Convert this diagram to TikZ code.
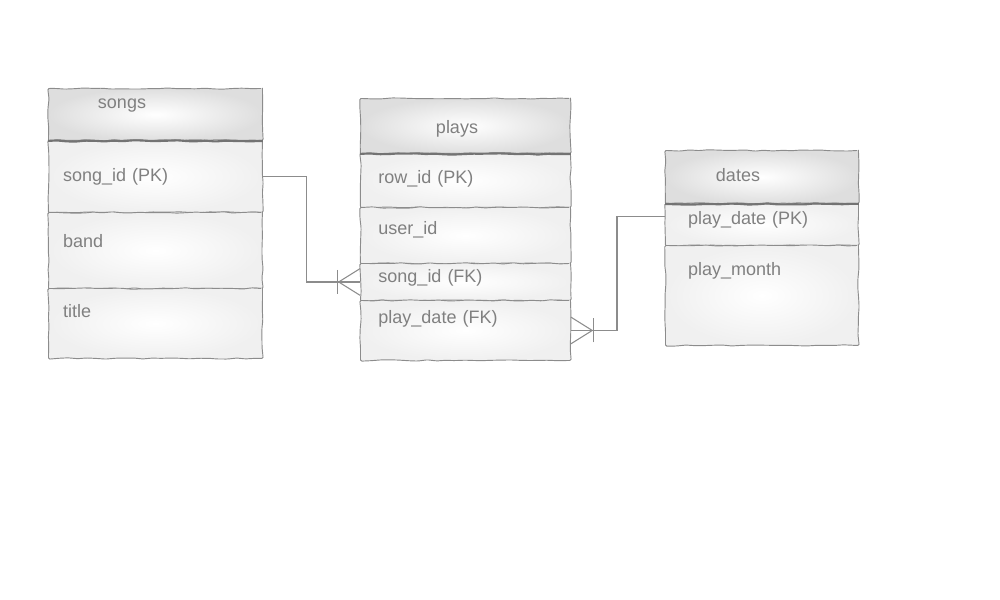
\documentclass[tikz,border=0pt]{standalone}
\usepackage{fontspec}
\setmainfont{Liberation Sans}
\usetikzlibrary{decorations.pathmorphing,calc}

\tikzset{
  sketch/.style={draw=black!45, line width=0.7pt, decorate,
    decoration={random steps, segment length=7pt, amplitude=0.5pt}, rounded corners=1pt},
  head/.style={sketch, anchor=north west, inner sep=0pt, shade, inner color=white, outer color=black!13},
  row/.style={sketch, anchor=north west, inner ysep=0pt, align=left, text height=10pt, text depth=3pt,
    shade, inner color=white, outer color=black!6, text=black!50},
  songcol/.style={row, text width=138.5pt, inner xsep=11pt},
  playcol/.style={row, text width=130.5pt, inner xsep=13.5pt},
  datecol/.style={row, text width=110.75pt, inner xsep=17pt},
  title/.style={text=black!50, inner sep=0pt},
  heavy/.style={sketch, line width=1.6pt, draw=black!55},
  link/.style={draw=black!45, line width=0.8pt},
  crow/.pic={
    \draw[link] (-16pt,0) -- (0,10pt);
    \draw[link] (-16pt,0) -- (0,0);
    \draw[link] (-16pt,0) -- (0,-10pt);
    \draw[link] (-17pt,9pt) -- (-17pt,-9pt);
  },
}
\pgfmathsetseed{7}

\begin{document}
\begin{tikzpicture}[x=0.75pt,y=-0.75pt,font=\fontsize{13.5pt}{16pt}\selectfont]
\useasboundingbox (0,0) rectangle (1000,600);
% songs
\node (songs) [head, minimum width=160.5pt, minimum height=39pt] at (48,88) {};
\node (songsT) [title] at (122,106) {songs};
\node (songid) [songcol, minimum height=54pt, text depth=2pt] at (48,140) {song\_id (PK)};
\node (band) [songcol, minimum height=57pt, text depth=15pt] at (48,212) {band};
\node (title) [songcol, minimum height=52.5pt, text depth=19.5pt] at (48,288) {title};
\draw[heavy] (songs.south west) -- (songs.south east);
% plays
\node (plays) [head, minimum width=157.5pt, minimum height=41.25pt] at (360,98) {};
\node (playsT) [title] at (457,129) {plays};
\node (rowid) [playcol, minimum height=40.5pt, text depth=6pt] at (360,153) {row\_id (PK)};
\node (userid) [playcol, minimum height=42pt, text depth=12pt] at (360,207) {user\_id};
\node (songidfk) [playcol, minimum height=27.75pt, text depth=9pt] at (360,263) {song\_id (FK)};
\node (playdate) [playcol, minimum height=45pt, text depth=21pt] at (360,300) {play\_date (FK)};
\draw[heavy] (plays.south west) -- (plays.south east);
% dates
\node (dates) [head, minimum width=144.75pt, minimum height=39.75pt] at (665,150) {};
\node (datesT) [title] at (738,175) {dates};
\node (playdatepk) [datecol, minimum height=31.5pt, text depth=10.5pt] at (665,203) {play\_date (PK)};
\node (playmonth) [datecol, minimum height=75pt, text depth=40.5pt] at (665,245) {play\_month};
\draw[heavy] (dates.south west) -- (dates.south east);
% links
\draw[link] (songid.east) -- ++(33pt,0) |- (songidfk.west);
\pic at (songidfk.west) {crow};
\draw[link] ([yshift=6pt]playdatepk.west) -- ++(-36pt,0) |- (playdate.east);
\pic[rotate=180] at (playdate.east) {crow};
\end{tikzpicture}
\end{document}
